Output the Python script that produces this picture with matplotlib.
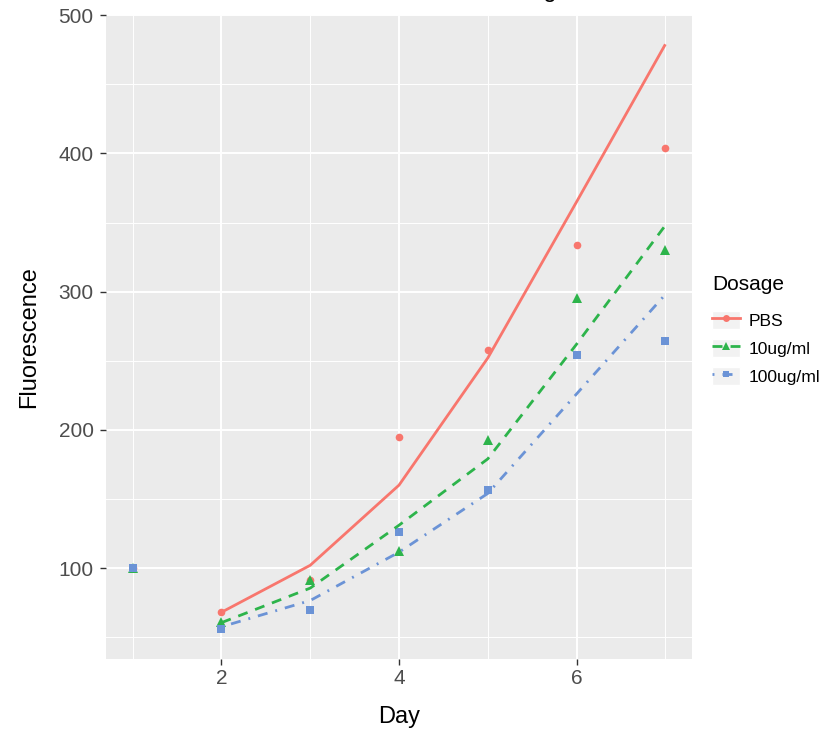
import matplotlib
matplotlib.use("Agg")
import matplotlib.pyplot as plt
from matplotlib.lines import Line2D
from matplotlib.patches import Rectangle
from matplotlib.legend_handler import HandlerLine2D

plt.rcParams['font.family'] = ['Liberation Sans', 'DejaVu Sans']

# ---- data ----
days = [1, 2, 3, 4, 5, 6, 7]
pbs_obs = [100, 68, 91.5, 195, 258, 334, 404]
ug10_obs = [100, 61, 91.5, 112.5, 193, 295.5, 330.5]
ug100_obs = [100, 56, 70, 126, 156.5, 254, 264.5]

fit_days = [2, 3, 4, 5, 6, 7]
pbs_fit = [68, 102, 160, 252, 365, 479]
ug10_fit = [60.5, 85.5, 131, 179, 262, 348]
ug100_fit = [57.5, 76.5, 111.5, 154, 226, 298]

labels = ['PBS', '10ug/ml', '100ug/ml']
colors = ['#F8766D', '#2DB44B', '#6B93D6']
markers = ['o', '^', 's']
msizes = [5.5, 6.5, 5.5]
dashes = [None, (3.6, 2.9), (0.7, 2.9, 3.6, 2.9)]

title = 'Fluorescence Across Dosing'

obs = [pbs_obs, ug10_obs, ug100_obs]
fits = [pbs_fit, ug10_fit, ug100_fit]

fig = plt.figure(figsize=(8.25, 7.35), dpi=100)
ax = fig.add_axes([106/825, 1-659/735, 586/825, 644/735])
ax.set_facecolor('#EBEBEB')
for s in ax.spines.values():
    s.set_visible(False)

handles = []
for y, c, m, ms in zip(obs, colors, markers, msizes):
    ax.plot(days, y, linestyle='none', marker=m, color=c, markersize=ms,
            markeredgewidth=0, zorder=3)
for y, c, d in zip(fits, colors, dashes):
    ln, = ax.plot(fit_days, y, color=c, lw=2, zorder=4, solid_capstyle='butt',
                  dash_capstyle='butt')
    if d is not None:
        ln.set_dashes(d)

for lab, c, m, ms, d in zip(labels, colors, markers, msizes, dashes):
    h = Line2D([], [], color=c, marker=m, markersize=ms - 0.5, lw=2,
               markeredgewidth=0)
    if d is not None:
        h.set_dashes(d)
    h.set_label(lab)
    handles.append(h)

ax.set_xlim(0.7, 7.3)
ax.set_ylim(34.2, 500.2)
ax.set_xticks([2, 4, 6])
ax.set_xticks([1, 3, 5, 7], minor=True)
ax.set_yticks([100, 200, 300, 400, 500])
ax.set_yticks([50, 150, 250, 350, 450], minor=True)
ax.grid(which='major', color='white', lw=1.4)
ax.grid(which='minor', color='white', lw=0.7)
ax.set_axisbelow(True)
ax.tick_params(which='major', length=4, width=1, color='#333333',
               labelcolor='#4D4D4D', labelsize=15)
ax.tick_params(axis='y', pad=5)
ax.tick_params(axis='x', pad=3.5)
ax.tick_params(which='minor', length=0)

ax.set_xlabel('Day', fontsize=17, color='black', labelpad=13)
ax.set_ylabel('Fluorescence', fontsize=17, color='black', labelpad=13)

fig.text(557/825, 1 + 3.5/735, title, ha='right', va='baseline', fontsize=17)


class KeyHandler(HandlerLine2D):
    def create_artists(self, legend, orig_handle, xdescent, ydescent,
                       width, height, fontsize, trans):
        arts = super().create_artists(legend, orig_handle, xdescent, ydescent,
                                      width, height, fontsize, trans)
        rect = Rectangle((-xdescent, -ydescent), width, height,
                         facecolor='#F2F2F2', edgecolor='white', lw=1,
                         transform=trans)
        return [rect] + list(arts)


leg = fig.legend(handles=handles, loc='upper left',
                 bbox_to_anchor=(712/825, 1 - 275/735), frameon=False,
                 title='Dosage', title_fontsize=15, fontsize=12.6,
                 handlelength=1.6, handleheight=1.25, labelspacing=0.55,
                 handletextpad=0.5, borderpad=0, borderaxespad=0,
                 numpoints=1, alignment='left',
                 handler_map={Line2D: KeyHandler(marker_pad=0.0)})
leg._legend_box.sep = 12

fig.savefig('out.png', dpi=100)
